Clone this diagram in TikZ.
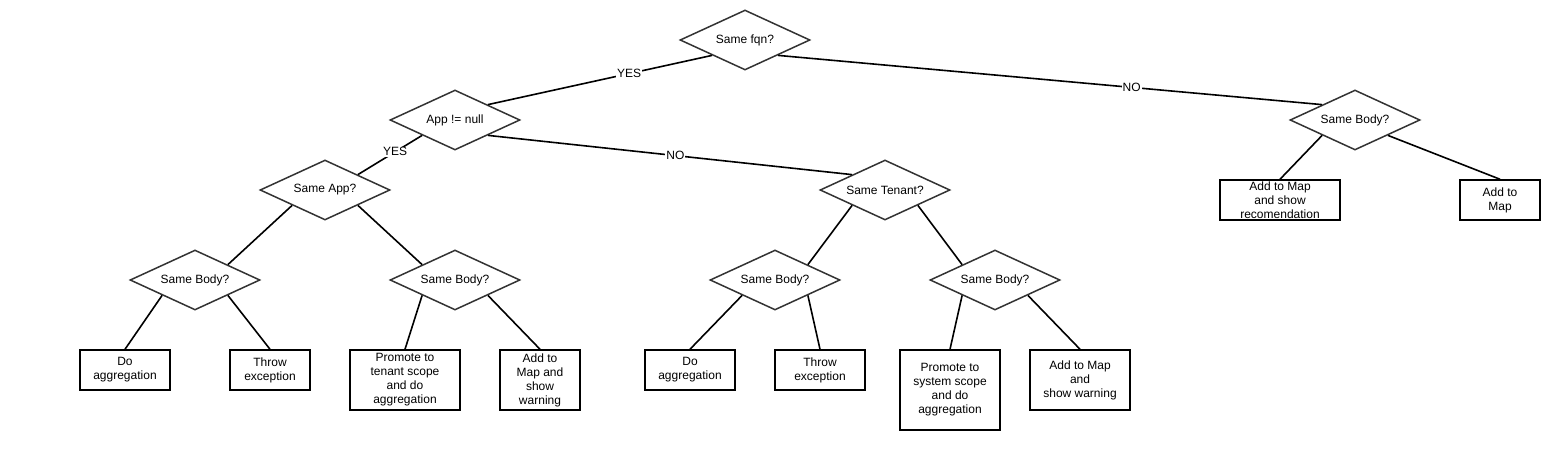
\documentclass[tikz,border=0pt]{standalone}
\usepackage{fontspec}
\setmainfont{Liberation Sans}
\usepackage{tikz}
\usetikzlibrary{shapes.geometric}

\begin{document}
\begin{tikzpicture}[x=1pt, y=-1pt, line width=1.6pt,
  every node/.style={font=\fontsize{12}{14}\selectfont},
  decision/.style={diamond, draw=black!80, line width=1.5pt, fill=white, minimum width=130pt, minimum height=60pt, inner sep=0pt, aspect=2},
  action/.style={rectangle, draw, line width=1.5pt, align=center, inner sep=1pt},
  answer/.style={fill=white, inner sep=1pt}]
 \useasboundingbox (0,0) rectangle (1565,450);
 \node[decision] (fqn) at (745,40) {Same fqn?};
 \node[decision] (app) at (455,120) {App != null};
 \node[decision] (sameapp) at (325,190) {Same App?};
 \node[decision] (tenant) at (885,190) {Same Tenant?};
 \foreach \n/\x/\y in {body1/195/280, body2/455/280, body3/775/280, body4/995/280, body5/1355/120}
   \node[decision] (\n) at (\x,\y) {Same Body?};
 \node[action, minimum width=90pt, minimum height=40pt] (agg1) at (125,370) {Do\\aggregation};
 \node[action, minimum width=80pt, minimum height=40pt] (throw1) at (270,370) {Throw\\exception};
 \node[action, minimum width=110pt, minimum height=60pt] (tenantscope) at (405,380) {Promote to\\tenant scope\\and do\\aggregation};
 \node[action, minimum width=80pt, minimum height=60pt] (warn1) at (540,380) {Add to\\Map and\\show\\warning};
 \node[action, minimum width=90pt, minimum height=40pt] (agg2) at (690,370) {Do\\aggregation};
 \node[action, minimum width=90pt, minimum height=40pt] (throw2) at (820,370) {Throw\\exception};
 \node[action, minimum width=100pt, minimum height=80pt] (systemscope) at (950,390) {Promote to\\system scope\\and do\\aggregation};
 \node[action, minimum width=100pt, minimum height=60pt] (warn2) at (1080,380) {Add to Map\\and\\show warning};
 \node[action, minimum width=120pt, minimum height=40pt, inner sep=0pt] (recommend) at (1280,200) {Add to Map\\and show\\recomendation};
 \node[action, minimum width=80pt, minimum height=40pt] (addmap) at (1500,200) {Add to\\Map};
 \draw (fqn.south west) -- node[answer, pos=0.37] {YES} (app.north east);
 \draw (fqn.south east) -- node[answer, pos=0.65] {NO} (body5.north west);
 \draw (app.south west) -- node[answer, pos=0.42] {YES} (sameapp.north east);
 \draw (app.south east) -- node[answer, pos=0.515] {NO} (tenant.north west);
 \draw (sameapp.south west) -- (body1.north east);
 \draw (sameapp.south east) -- (body2.north west);
 \draw (tenant.south west) -- (body3.north east);
 \draw (tenant.south east) -- (body4.north west);
 \draw (body1.south west) -- (agg1.north);
 \draw (body1.south east) -- (throw1.north);
 \draw (body2.south west) -- (tenantscope.north);
 \draw (body2.south east) -- (warn1.north);
 \draw (body3.south west) -- (agg2.north);
 \draw (body3.south east) -- (throw2.north);
 \draw (body4.south west) -- (systemscope.north);
 \draw (body4.south east) -- (warn2.north);
 \draw (body5.south west) -- (recommend.north);
 \draw (body5.south east) -- (addmap.north);
\end{tikzpicture}
\end{document}
